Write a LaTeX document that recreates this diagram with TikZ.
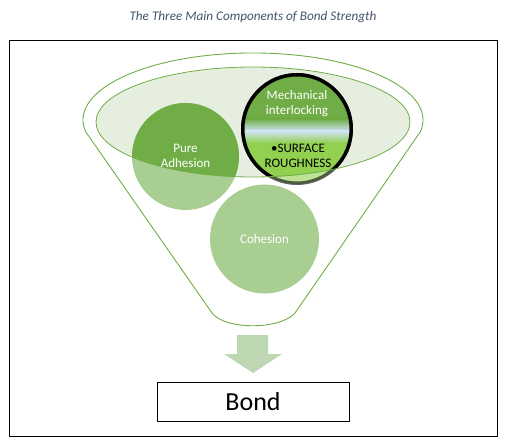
\documentclass[tikz,border=0pt]{standalone}
\usepackage{fontspec}
\setmainfont{Carlito}
\usepackage{xcolor}
\usepackage{tikz}

\definecolor{funnelgreen}{HTML}{70AD47}
\definecolor{rimfill}{HTML}{E6EEE0}
\definecolor{mechlight}{HTML}{92D050}
\definecolor{mechband}{HTML}{CFE4F2}
\definecolor{arrowgreen}{HTML}{BDD7B2}
\definecolor{titlegray}{HTML}{44546A}

%% the three component discs, drawn once faded and once inside the rim
\newcommand{\bondparts}{%
  \fill[funnelgreen] (185.5,156.5) circle (53.5);
  \fill[funnelgreen] (264.5,239) circle (54.5);
  \begin{scope}
    \clip (297,129) circle (55);
    \fill[funnelgreen] (240,72) rectangle (354,119);
    \fill[top color=funnelgreen, bottom color=mechband] (240,119) rectangle (354,131);
    \fill[top color=mechband, bottom color=mechlight] (240,131) rectangle (354,143);
    \fill[mechlight] (240,143) rectangle (354,186);
  \end{scope}
  \draw[line width=3.5pt] (297,129) circle (54.25);
}

\begin{document}
\begin{tikzpicture}[x=1pt, y=-1pt, line join=round,
    lbl/.style={text=white, align=center, font=\fontsize{13}{15}\selectfont},
    rim/.style={draw=funnelgreen, line width=0.9pt}]
  \useasboundingbox (0,0) rectangle (507,444);
  \node[text=titlegray, font=\fontsize{13.2}{15}\selectfont\itshape] (title) at (253,17)
    {The Three Main Components of Bond Strength};
  \draw[line width=0.9pt] (9,40) rectangle (497,436);
  %% funnel body
  \draw[rim] (212,313) -- (85.6,131.6)
    arc[start angle=170, end angle=370, x radius=170, y radius=67]
    -- (295,313) .. controls (280,330) and (225,330) .. (212,313) -- cycle;
  \fill[rimfill] (253,122) ellipse [x radius=157, y radius=55];
  %% discs: faded outside the rim, full colour inside it
  \begin{scope}[opacity=0.6]
    \bondparts
  \end{scope}
  \begin{scope}
    \clip (253,122) ellipse [x radius=157, y radius=55];
    \bondparts
  \end{scope}
  \draw[rim, line width=0.8pt] (253,122) ellipse [x radius=157, y radius=55];
  \node[lbl] (pure) at (185.5,156) {Pure\\Adhesion};
  \node[lbl] (mech) at (297,104) {Mechanical\\interlocking};
  \node[lbl, text=black] (rough) at (298,156) {\textbullet SURFACE\\ROUGHNESS};
  \node[lbl] (cohesion) at (264.5,239) {Cohesion};
  %% result
  \fill[arrowgreen] (237,335) -- (268,335) -- (268,354) -- (282,354)
    -- (253,373) -- (224,354) -- (237,354) -- cycle;
  \node[draw, line width=0.8pt, minimum width=192pt, minimum height=39pt,
    font=\fontsize{26}{30}\selectfont] (bond) at (253,401.5) {Bond};
\end{tikzpicture}
\end{document}
